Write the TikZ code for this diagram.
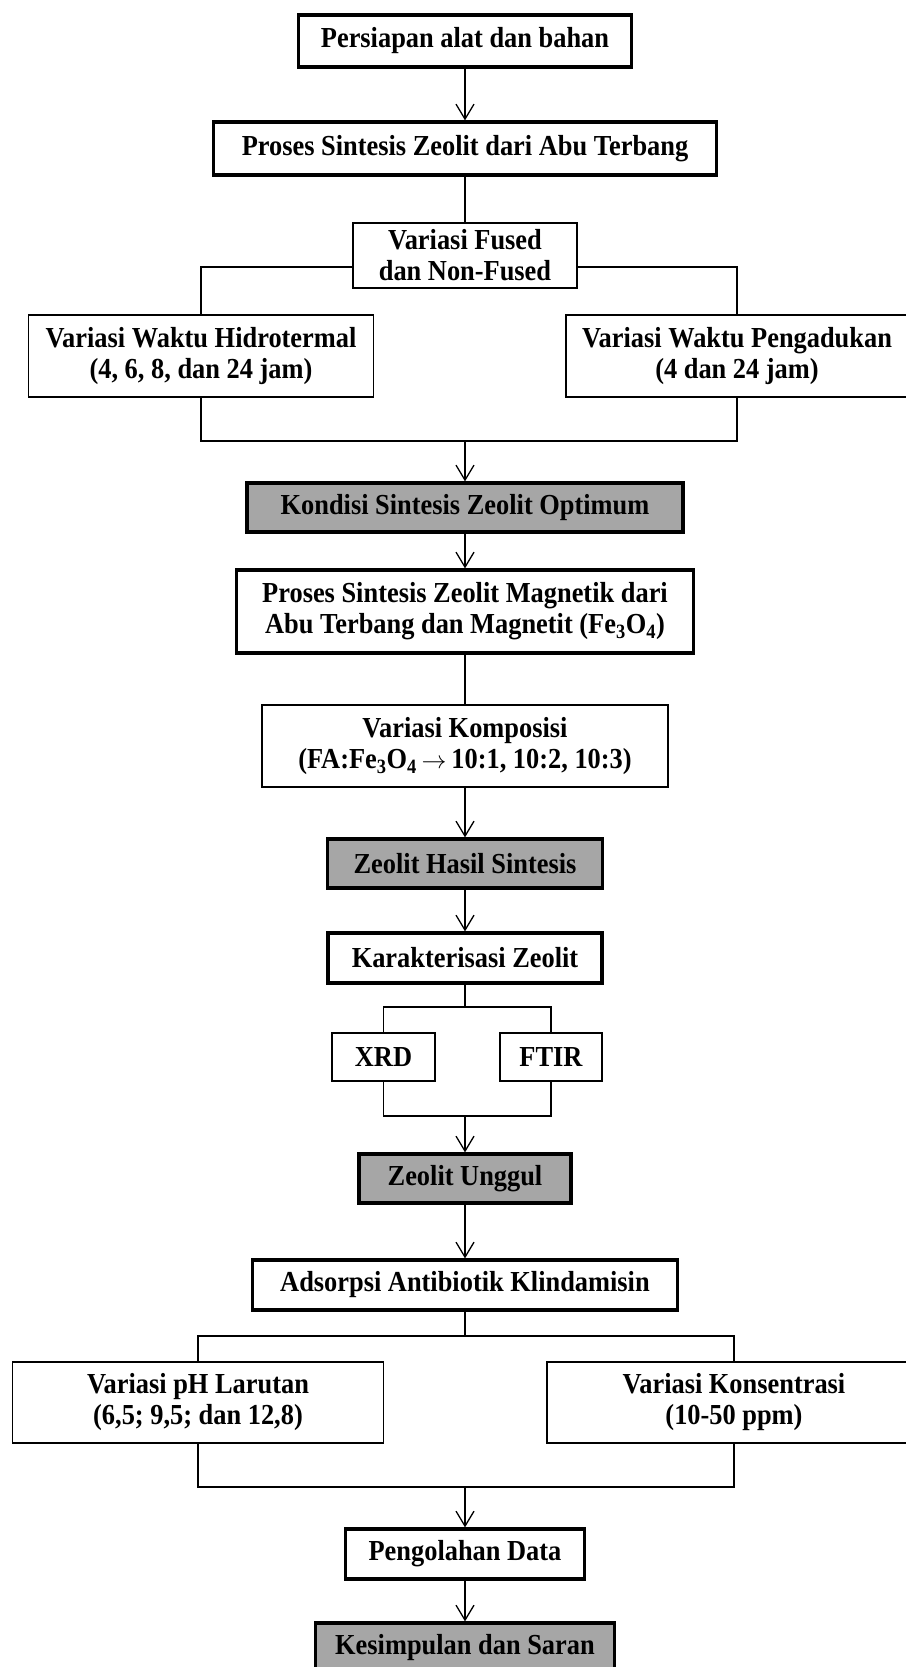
\documentclass[tikz,border=0pt]{standalone}
\usepackage{fontspec}
\setmainfont[FakeStretch=0.91]{Liberation Serif}
\usetikzlibrary{arrows.meta}
\tikzset{
  box/.style={draw, line width=1.3pt, fill=white, inner sep=0pt, align=center, font=\fontsize{29}{31}\selectfont\bfseries},
  boldbox/.style={box, line width=3.2pt},
  greybox/.style={boldbox, fill=black!35},
  link/.style={line width=1.3pt},
  arr/.style={link, -{Straight Barb[length=15pt,width=18pt]}}
}

\begin{document}
\begin{tikzpicture}[x=1pt, y=-1pt]
  \useasboundingbox (0,0) rectangle (905,1667);
  \node[boldbox, minimum width=333, minimum height=52] (alat) at (465,41) {Persiapan alat dan bahan};
  \node[boldbox, minimum width=503, minimum height=53] (sintesis) at (465,148.5) {Proses Sintesis Zeolit dari Abu Terbang};
  \node[box, minimum width=224, minimum height=65] (fused) at (465,255.5) {Variasi Fused\\dan Non-Fused};
  \node[box, minimum width=345, minimum height=82] (hidro) at (201,356) {Variasi Waktu Hidrotermal\\(4, 6, 8, dan 24 jam)};
  \node[box, minimum width=342, minimum height=82] (aduk) at (737,356) {Variasi Waktu Pengadukan\\(4 dan 24 jam)};
  \node[greybox, minimum width=436, minimum height=49] (optimum) at (465,507.5) {Kondisi Sintesis Zeolit Optimum};
  \node[boldbox, minimum width=457, minimum height=83] (magnetik) at (465,611.5) {Proses Sintesis Zeolit Magnetik dari\\Abu Terbang dan Magnetit (Fe\textsubscript{3}O\textsubscript{4})};
  \node[box, minimum width=406, minimum height=82] (komposisi) at (465,746) {Variasi Komposisi\\(FA:Fe\textsubscript{3}O\textsubscript{4}\,$\rightarrow$\,10:1, 10:2, 10:3)};
  \node[greybox, minimum width=275, minimum height=49] (hasil) at (465,863.5) {Zeolit Hasil Sintesis};
  \node[boldbox, minimum width=274, minimum height=50] (karakter) at (465,958) {Karakterisasi Zeolit};
  \node[box, minimum width=103, minimum height=48] (xrd) at (383.5,1057) {XRD};
  \node[box, minimum width=102, minimum height=48] (ftir) at (551,1057) {FTIR};
  \node[greybox, minimum width=212, minimum height=49] (unggul) at (465,1178.5) {Zeolit Unggul};
  \node[boldbox, minimum width=425, minimum height=50] (adsorpsi) at (465,1285) {Adsorpsi Antibiotik Klindamisin};
  \node[box, minimum width=371, minimum height=81] (ph) at (198,1402.5) {Variasi pH Larutan\\(6,5; 9,5; dan 12,8)};
  \node[box, minimum width=374, minimum height=81] (konsentrasi) at (734,1402.5) {Variasi Konsentrasi\\(10-50 ppm)};
  \node[boldbox, minimum width=239, minimum height=50] (olah) at (465,1554) {Pengolahan Data};
  \node[greybox, minimum width=299, minimum height=50] (saran) at (465,1648) {Kesimpulan dan Saran};
  \coordinate (s1) at (465,267);
  \coordinate (m1) at (465,441);
  \coordinate (s2) at (465,1007);
  \coordinate (m2) at (465,1116);
  \coordinate (s3) at (465,1336);
  \coordinate (m3) at (465,1487);
  \draw[arr] (alat) -- (sintesis);
  \draw[link] (sintesis) -- (fused);
  \draw[link] (fused.west |- s1) -| (hidro.north);
  \draw[link] (fused.east |- s1) -| (aduk.north);
  \draw[link] (hidro.south) |- (m1) -| (aduk.south);
  \draw[arr] (m1) -- (optimum);
  \draw[arr] (optimum) -- (magnetik);
  \draw[link] (magnetik) -- (komposisi);
  \draw[arr] (komposisi) -- (hasil);
  \draw[arr] (hasil) -- (karakter);
  \draw[link] (karakter) -- (s2);
  \draw[link] (xrd.north) |- (s2) -| (ftir.north);
  \draw[link] (xrd.south) |- (m2) -| (ftir.south);
  \draw[arr] (m2) -- (unggul);
  \draw[arr] (unggul) -- (adsorpsi);
  \draw[link] (adsorpsi) -- (s3);
  \draw[link] (ph.north) |- (s3) -| (konsentrasi.north);
  \draw[link] (ph.south) |- (m3) -| (konsentrasi.south);
  \draw[arr] (m3) -- (olah);
  \draw[arr] (olah) -- (saran);
\end{tikzpicture}
\end{document}
